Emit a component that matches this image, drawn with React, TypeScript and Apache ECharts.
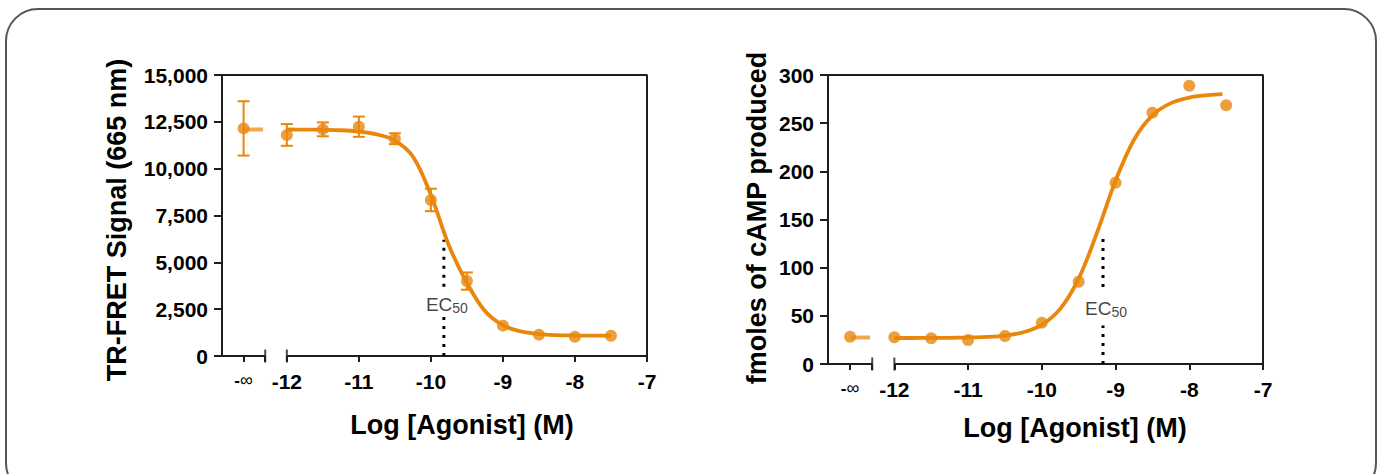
import { useEffect, useRef } from "react";
import * as echarts from "echarts";

// ---- axis configuration ----
const X_MIN = -12.9;
const X_MAX = -7;
const X_INF = -12.6; // position of the "-∞" (no agonist) point
const X_BREAK_END = -12.3;
const X_START = -12;
const xTickValues = [-12.6, -12.3, -12, -11, -10, -9, -8, -7];
const xLabelValues = [-12.6, -12, -11, -10, -9, -8, -7];

// ---- left panel: TR-FRET signal ----
const logConc = [-12, -11.5, -11, -10.5, -10, -9.5, -9, -8.5, -8, -7.5];
const fretMean = [11800, 12100, 12240, 11600, 8330, 4000, 1620, 1140, 1030, 1080];
const fretSd = [580, 370, 540, 290, 600, 460, 0, 0, 0, 0];
const fretInfMean = 12150;
const fretInfSd = 1450;
const fretCurveX = [-12, -11.75, -11.5, -11.25, -11, -10.75, -10.5, -10.25, -10, -9.75, -9.5, -9.25, -9, -8.75, -8.5, -8.25, -8, -7.75, -7.5];
const fretCurveY = [12090, 12085, 12075, 12050, 11980, 11830, 11500, 10650, 8600, 5900, 3900, 2400, 1640, 1310, 1170, 1115, 1095, 1085, 1080];
const fretEc50 = -9.82;
const fretEcTop = 6200;
const fretEcGapLow = 2300;
const fretEcGapHigh = 3700;
const fretEcLabelY = 2830;
const fretYMax = 15000;
const fretYInterval = 2500;

// ---- right panel: cAMP produced ----
const campMean = [27.7, 26.7, 24.9, 29.1, 42.9, 85.4, 188.2, 260.9, 288.9, 268.5];
const campInf = 28.3;
const campCurveX = [-12, -11.75, -11.5, -11.25, -11, -10.75, -10.5, -10.25, -10, -9.75, -9.5, -9.25, -9, -8.75, -8.5, -8.25, -8, -7.75, -7.55];
const campCurveY = [27.0, 27.0, 27.1, 27.2, 27.5, 28.1, 29.5, 33.0, 40.7, 57.2, 88.6, 136.6, 190.3, 232.8, 258.1, 270.8, 276.6, 279.1, 280.1];
const campPlateau = 27.5;
const campEc50 = -9.17;
const campEcTop = 134;
const campEcGapLow = 40;
const campEcGapHigh = 80;
const campEcLabelY = 59;
const campYMax = 300;
const campYInterval = 50;

const ORANGE = "#E9870C";
const ORANGE_LIGHT = "rgba(233,135,12,0.72)";
const INK = "#1e1e1e";
const FONT = "'Liberation Sans', Arial, sans-serif";

function xAxisFor(gridIndex: number) {
  return {
    type: "value",
    gridIndex,
    min: X_MIN,
    max: X_MAX,
    axisLine: { show: false },
    splitLine: { show: false },
    axisTick: {
      show: true,
      customValues: xTickValues,
      length: 6,
      lineStyle: { color: INK, width: 2 },
    },
    axisLabel: {
      show: true,
      customValues: xLabelValues,
      margin: 15,
      color: "#000",
      fontFamily: FONT,
      fontWeight: "bold",
      fontSize: 21,
      formatter: (v: number) => (Math.abs(v - X_INF) < 1e-6 ? "{inf|-}{infs|∞}" : String(v)),
      rich: {
        inf: { fontFamily: FONT, fontSize: 17, fontWeight: "bold", color: "#000" },
        infs: { fontFamily: FONT, fontSize: 18, fontWeight: "normal", color: "#000" },
      },
    },
  };
}

function yAxisFor(gridIndex: number, max: number, interval: number) {
  return {
    type: "value",
    gridIndex,
    min: 0,
    max,
    interval,
    splitLine: { show: false },
    axisLine: { show: true, lineStyle: { color: INK, width: 2 } },
    axisTick: { show: true, length: 8, lineStyle: { color: INK, width: 2 } },
    axisLabel: {
      margin: 14,
      color: "#000",
      fontFamily: FONT,
      fontWeight: "bold",
      fontSize: 21,
      formatter: (v: number) => v.toLocaleString("en-US"),
    },
  };
}

function errorBarSeries(idx: number, data: number[][]) {
  return {
    type: "custom",
    xAxisIndex: idx,
    yAxisIndex: idx,
    z: 3,
    silent: true,
    data,
    renderItem: (_p: any, api: any) => {
      const x = api.value(0);
      const lo = api.coord([x, api.value(1)]);
      const hi = api.coord([x, api.value(2)]);
      const hw = 6;
      const style = { stroke: ORANGE, lineWidth: 2 };
      return {
        type: "group",
        children: [
          { type: "line", shape: { x1: lo[0], y1: lo[1], x2: hi[0], y2: hi[1] }, style },
          { type: "line", shape: { x1: lo[0] - hw, y1: lo[1], x2: lo[0] + hw, y2: lo[1] }, style },
          { type: "line", shape: { x1: hi[0] - hw, y1: hi[1], x2: hi[0] + hw, y2: hi[1] }, style },
        ],
      };
    },
  };
}

function lineSeries(idx: number, data: number[][], style: any, z = 2, smooth: any = false) {
  return {
    type: "line",
    xAxisIndex: idx,
    yAxisIndex: idx,
    data,
    showSymbol: false,
    symbol: "none",
    smooth,
    silent: true,
    z,
    clip: false,
    lineStyle: style,
  };
}

function panelSeries(
  idx: number,
  yMax: number,
  means: number[],
  sds: number[] | null,
  infMean: number,
  infSd: number | null,
  plateau: number,
  curveX: number[],
  curveY: number[],
  ec50: number,
  ecTop: number,
  gapLow: number,
  gapHigh: number,
  ecLabelY: number
) {
  const frameStyle = { color: INK, width: 2 };
  const dotStyle = { color: "#000", width: 3, type: [3, 6] };
  const series: any[] = [
    // plot frame: top and right edges
    lineSeries(idx, [[X_MIN, yMax], [X_MAX, yMax], [X_MAX, 0]], frameStyle, 1),
    // broken x axis
    lineSeries(idx, [[X_MIN, 0], [X_BREAK_END, 0]], frameStyle, 1),
    lineSeries(idx, [[X_START, 0], [X_MAX, 0]], frameStyle, 1),
    {
      type: "scatter",
      xAxisIndex: idx,
      yAxisIndex: idx,
      symbol: "rect",
      symbolSize: [2, 13],
      silent: true,
      z: 1,
      itemStyle: { color: INK },
      data: [[X_BREAK_END, 0], [X_START, 0]],
    },
    // EC50 dotted marker
    lineSeries(idx, [[ec50, 0], [ec50, gapLow]], dotStyle, 1),
    lineSeries(idx, [[ec50, gapHigh], [ec50, ecTop]], dotStyle, 1),
    {
      type: "scatter",
      xAxisIndex: idx,
      yAxisIndex: idx,
      symbolSize: 0,
      silent: true,
      data: [[ec50, ecLabelY]],
      label: {
        show: true,
        position: "inside",
        offset: [3, 2],
        formatter: "{a|EC}{b|50}",
        rich: {
          a: { fontFamily: FONT, fontSize: 19, color: "#111", lineHeight: 20, verticalAlign: "top" },
          b: { fontFamily: FONT, fontSize: 14, color: "#111", lineHeight: 14, verticalAlign: "bottom", padding: [10, 0, 0, 0] },
        },
      },
    },
    // fitted curve
    lineSeries(idx, curveX.map((x, i) => [x, curveY[i]]), { color: ORANGE, width: 3.8 }, 2, 0.35),
    // plateau stub next to the "-∞" point
    lineSeries(idx, [[X_INF, plateau], [X_BREAK_END - 0.03, plateau]], { color: ORANGE_LIGHT, width: 4 }, 2),
  ];
  if (sds) {
    const bars: number[][] = [];
    if (infSd) bars.push([X_INF, infMean - infSd, infMean + infSd]);
    logConc.forEach((x, i) => {
      if (sds[i] > 0) bars.push([x, means[i] - sds[i], means[i] + sds[i]]);
    });
    series.push(errorBarSeries(idx, bars));
  }
  series.push({
    type: "scatter",
    xAxisIndex: idx,
    yAxisIndex: idx,
    symbol: "circle",
    symbolSize: 12,
    silent: true,
    z: 4,
    itemStyle: { color: ORANGE },
    data: [[X_INF, infMean], ...logConc.map((x, i) => [x, means[i]])],
  });
  return series;
}

export default function App() {
  const ref = useRef<HTMLDivElement>(null);
  useEffect(() => {
    if (!ref.current) return;
    const chart = echarts.init(ref.current, null, { renderer: "svg" });
    const titleStyle = { fontFamily: FONT, fontWeight: "bold", fontSize: 27, fill: "#000", align: "center", verticalAlign: "middle" };
    chart.setOption({
      animation: false,
      backgroundColor: "#fff",
      grid: [
        { left: 222, top: 75, width: 425, height: 281 },
        { left: 828, top: 75, width: 435, height: 289 },
      ],
      xAxis: [xAxisFor(0), xAxisFor(1)],
      yAxis: [yAxisFor(0, fretYMax, fretYInterval), yAxisFor(1, campYMax, campYInterval)],
      graphic: [
        {
          type: "rect",
          shape: { x: 6, y: 9, width: 1370, height: 486, r: 32 },
          style: { fill: "none", stroke: "#555", lineWidth: 2 },
          silent: true,
          z: -10,
        },
        { type: "text", x: 117, y: 220, rotation: Math.PI / 2, style: { ...titleStyle, text: "TR-FRET Signal (665 nm)" } },
        { type: "text", x: 462, y: 425, style: { ...titleStyle, text: "Log [Agonist] (M)" } },
        { type: "text", x: 757, y: 218, rotation: Math.PI / 2, style: { ...titleStyle, text: "fmoles of cAMP produced" } },
        { type: "text", x: 1075, y: 428, style: { ...titleStyle, text: "Log [Agonist] (M)" } },
      ],
      series: [
        ...panelSeries(0, fretYMax, fretMean, fretSd, fretInfMean, fretInfSd, fretCurveY[0], fretCurveX, fretCurveY, fretEc50, fretEcTop, fretEcGapLow, fretEcGapHigh, fretEcLabelY),
        ...panelSeries(1, campYMax, campMean, null, campInf, null, campPlateau, campCurveX, campCurveY, campEc50, campEcTop, campEcGapLow, campEcGapHigh, campEcLabelY),
      ],
    });
    return () => chart.dispose();
  }, []);
  return <div ref={ref} style={{ position: "fixed", left: 0, top: 0, width: 1382, height: 474 }} />;
}
